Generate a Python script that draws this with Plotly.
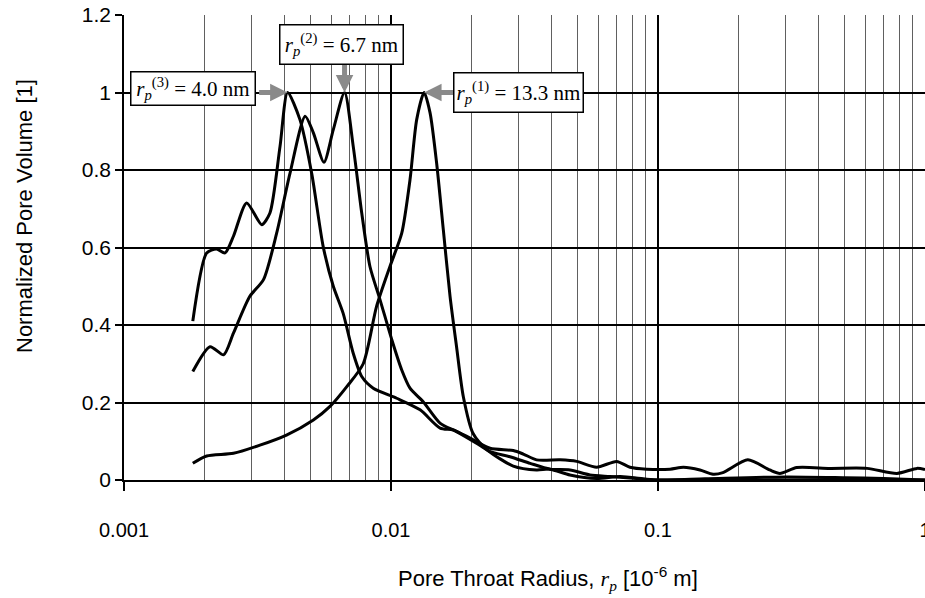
import math
import plotly.graph_objects as go

# ---------------- data ----------------
# Curve with peak at r_p(3) = 4.0 nm
radius_a = [0.00181, 0.00204, 0.00222, 0.00239, 0.00257, 0.00288, 0.00328, 0.00352,
            0.00384, 0.0041, 0.00456, 0.00505, 0.00557, 0.00608, 0.00662, 0.00722,
            0.00777, 0.00858, 0.0105, 0.01285, 0.01527, 0.0171, 0.0198, 0.0235,
            0.0287, 0.0313, 0.0351, 0.043, 0.0496, 0.0589, 0.070, 0.0785, 0.0907,
            0.111, 0.1245, 0.1436, 0.1607, 0.175, 0.217, 0.262, 0.286, 0.331,
            0.44, 0.607, 0.785, 0.933, 1.0]
volume_a = [0.41, 0.586, 0.596, 0.586, 0.629, 0.715, 0.659, 0.689,
            0.861, 1.0, 0.93, 0.79, 0.603, 0.50, 0.43, 0.327,
            0.267, 0.237, 0.211, 0.181, 0.134, 0.129, 0.108, 0.082,
            0.076, 0.067, 0.052, 0.052, 0.048, 0.033, 0.048, 0.033, 0.028,
            0.028, 0.033, 0.026, 0.015, 0.019, 0.052, 0.026, 0.017, 0.032,
            0.030, 0.030, 0.017, 0.030, 0.027]

# Curve with peak at r_p(2) = 6.7 nm
radius_b = [0.00181, 0.0021, 0.00236, 0.00257, 0.00296, 0.00333, 0.00373, 0.00418,
            0.00477, 0.00512, 0.00561, 0.00608, 0.0067, 0.00722, 0.00777, 0.00834,
            0.0091, 0.01007, 0.01097, 0.01178, 0.0132, 0.0153, 0.0176, 0.0209,
            0.0235, 0.0279, 0.0332, 0.0394, 0.0468, 0.0556, 0.0661, 0.0832, 0.0989,
            0.15, 0.3, 0.5, 0.7, 1.0]
volume_b = [0.28, 0.344, 0.323, 0.379, 0.474, 0.517, 0.637, 0.79,
            0.939, 0.896, 0.82, 0.904, 1.0, 0.861, 0.689, 0.551,
            0.465, 0.362, 0.284, 0.237, 0.202, 0.146, 0.125, 0.095,
            0.073, 0.06, 0.043, 0.028, 0.026, 0.013, 0.009, 0.004, 0.0,
            0.003, 0.008, 0.006, 0.004, 0.0]

# Curve with peak at r_p(1) = 13.3 nm
radius_c = [0.00181, 0.00204, 0.00257, 0.00323, 0.00406, 0.00512, 0.00591, 0.00683,
            0.00787, 0.00883, 0.00991, 0.01097, 0.01178, 0.01248, 0.0133, 0.014,
            0.01482, 0.0157, 0.01664, 0.0176, 0.01866, 0.0203, 0.0229, 0.0287,
            0.0351, 0.0394, 0.0468, 0.0589, 0.0721, 0.0907, 0.1017, 0.2, 1.0]
volume_c = [0.043, 0.062, 0.069, 0.09, 0.116, 0.155, 0.19, 0.241,
            0.30, 0.448, 0.551, 0.637, 0.775, 0.93, 1.0, 0.948,
            0.818, 0.646, 0.474, 0.344, 0.215, 0.12, 0.078, 0.036,
            0.026, 0.028, 0.013, 0.004, 0.009, 0.002, 0.0, 0.0, 0.0]

x_tick_values = [0.001, 0.01, 0.1, 1]
x_tick_labels = ["0.001", "0.01", "0.1", "1"]
y_tick_values = [0, 0.2, 0.4, 0.6, 0.8, 1.0, 1.2]
y_tick_labels = ["0", "0.2", "0.4", "0.6", "0.8", "1", "1.2"]

peak_labels = ["<i>r</i><sub><i>p</i></sub><sup>(3)</sup> = 4.0 nm",
               "<i>r</i><sub><i>p</i></sub><sup>(2)</sup> = 6.7 nm",
               "<i>r</i><sub><i>p</i></sub><sup>(1)</sup> = 13.3 nm"]
peak_radii = [0.0041, 0.0067, 0.0133]
peak_values = [1.0, 1.0, 1.0]

# ---------------- layout geometry ----------------
W, H = 925, 598
ML, MR, MT, MB = 124, 0, 15, 118
PW, PH = W - ML - MR, H - MT - MB


def paper_x(px):
    return (px - ML) / PW


def paper_y(py):
    return (H - MB - py) / PH


fig = go.Figure()
for r, v in [(radius_a, volume_a), (radius_b, volume_b), (radius_c, volume_c)]:
    fig.add_trace(go.Scatter(
        x=r, y=v, mode="lines", showlegend=False, hoverinfo="skip",
        line=dict(color="black", width=3, shape="spline", smoothing=0.7),
    ))

minor_vals = [k * 10 ** e for e in (-3, -2, -1) for k in range(2, 10)]

fig.update_xaxes(
    type="log", range=[-3, 0],
    tickvals=x_tick_values, ticktext=x_tick_labels,
    showgrid=True, gridcolor="black", gridwidth=1.5,
    showline=True, linecolor="black", linewidth=1.5,
    ticks="outside", ticklen=9, tickwidth=1.5, tickcolor="black",
    ticklabelstandoff=22, ticklabeloverflow="allow",
    minor=dict(tickvals=minor_vals, showgrid=True, gridcolor="#606060", gridwidth=1, ticks=""),
    tickfont=dict(family="Liberation Sans", size=20, color="black"),
    zeroline=False, automargin=False,
)
fig.update_yaxes(
    range=[0, 1.2], tickvals=y_tick_values, ticktext=y_tick_labels,
    showgrid=True, gridcolor="black", gridwidth=1.5,
    showline=True, linecolor="black", linewidth=1.5,
    ticks="outside", ticklen=7, tickwidth=1.5, tickcolor="black",
    tickfont=dict(family="Liberation Sans", size=21, color="black"),
    zeroline=False, automargin=False,
)

annotations = []
# peak label boxes: (center px x, center px y, width, height)
boxes = [(193, 88, 121, 30), (341, 44, 120, 36), (518, 92, 126, 36)]
# arrow tails relative to the peak (pixels)
arrow_offsets = [(-30, 0), (0, -30), (33, 0)]
for label, (bx, by, bw, bh), rad, val, (ax, ay) in zip(peak_labels, boxes, peak_radii, peak_values, arrow_offsets):
    annotations.append(dict(
        x=math.log10(rad), y=val, xref="x", yref="y", text="",
        showarrow=True, ax=ax, ay=ay, axref="pixel", ayref="pixel",
        arrowhead=2, arrowsize=0.7, arrowwidth=5, arrowcolor="#8a8a8a", standoff=0,
    ))
    annotations.append(dict(
        x=paper_x(bx), y=paper_y(by), xref="paper", yref="paper",
        text=label, showarrow=False, xanchor="center", yanchor="middle",
        width=bw, height=bh, bgcolor="white", bordercolor="black", borderwidth=1.5, borderpad=1,
        font=dict(family="Liberation Serif", size=21, color="black"),
    ))

annotations.append(dict(
    x=paper_x(24), y=paper_y(216), xref="paper", yref="paper", textangle=-90,
    text="Normalized Pore Volume [1]", showarrow=False, xanchor="center", yanchor="middle",
    font=dict(family="Liberation Sans", size=22, color="black"),
))
annotations.append(dict(
    x=paper_x(548), y=paper_y(578), xref="paper", yref="paper",
    text='Pore Throat Radius, <span style="font-family:Liberation Serif"><i>r</i><sub><i>p</i></sub></span> [10<sup>-6</sup> m]',
    showarrow=False, xanchor="center", yanchor="middle",
    font=dict(family="Liberation Sans", size=22, color="black"),
))

fig.update_layout(
    width=W, height=H,
    margin=dict(l=ML, r=MR, t=MT, b=MB, pad=0),
    paper_bgcolor="white", plot_bgcolor="white",
    annotations=annotations, showlegend=False,
)

fig.write_html("out.html")
